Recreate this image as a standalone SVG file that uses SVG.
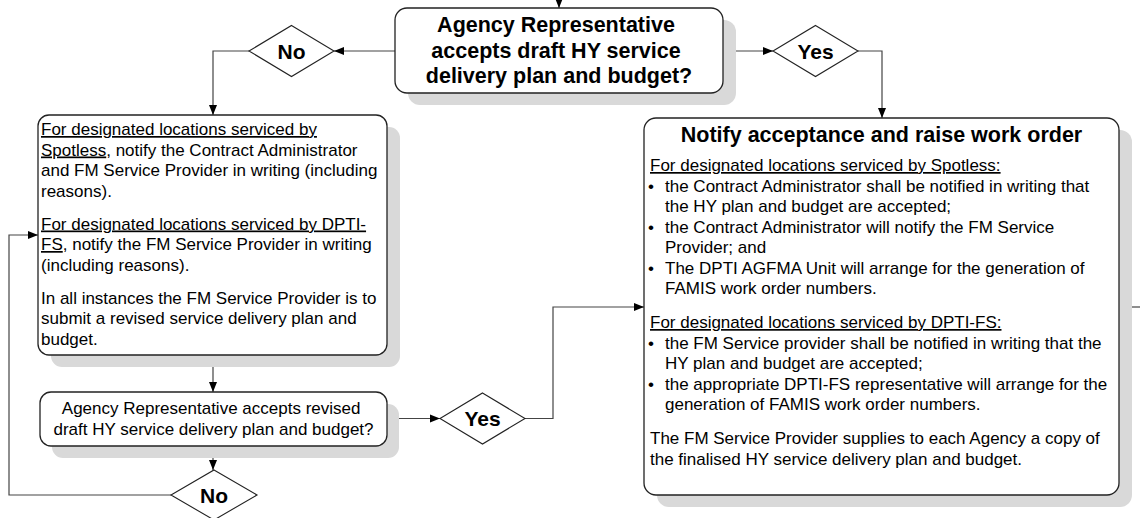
<svg xmlns="http://www.w3.org/2000/svg" width="1140" height="518" viewBox="0 0 1140 518">
  <defs>
    <marker id="arrow" viewBox="0 0 10 10" refX="10" refY="5" markerWidth="10" markerHeight="10" markerUnits="userSpaceOnUse" orient="auto">
      <path d="M0,1 L10,5 L0,9 Z" fill="#000"/>
    </marker>
    <style>
      .box { fill: #fff; stroke: #222; stroke-width: 1.3; }
      .shadow { fill: #d9d9d9; stroke: none; }
      .dia { fill: #fff; stroke: #222; stroke-width: 1.1; }
      .conn { fill: none; stroke: #444; stroke-width: 1.2; }
      .arr { marker-end: url(#arrow); }
      .hd { font-family: "Liberation Sans", Arial, sans-serif; font-weight: bold; font-size: 21.5px; fill: #000; }
      .lbl { font-family: "Liberation Sans", Arial, sans-serif; font-weight: bold; font-size: 21px; fill: #000; text-anchor: middle; }
      .tx { font-family: "Liberation Sans", Arial, sans-serif; font-size: 17px; fill: #000; }
      .u { text-decoration: underline; }
    </style>
  </defs>

  <!-- connectors -->
  <g id="connectors">
    <path class="conn arr" d="M559,0 V8"/>
    <path class="conn arr" d="M395,51 H334"/>
    <path class="conn arr" d="M249,51 H213 V115"/>
    <path class="conn arr" d="M723,51 H773"/>
    <path class="conn arr" d="M858,51 H882 V118"/>
    <path class="conn arr" d="M213,355 V392"/>
    <path class="conn arr" d="M213,446 V470"/>
    <path class="conn arr" d="M387,418.5 H440"/>
    <path class="conn arr" d="M525,418.5 H553 V307 H644"/>
    <path class="conn arr" d="M171,495 H9 V235 H38"/>
    <path class="conn" d="M1119,307 H1140"/>
  </g>

  <!-- decision: draft plan accepted -->
  <g id="draft-decision">
    <rect class="shadow" x="408" y="20" width="328" height="85" rx="12"/>
    <rect class="box" x="395" y="8" width="328" height="85" rx="12"/>
    <text class="hd" text-anchor="middle">
      <tspan x="559" y="32">Agency Representative</tspan>
      <tspan x="559" y="57.5">accepts draft HY service</tspan>
      <tspan x="559" y="83">delivery plan and budget?</tspan>
    </text>
  </g>

  <g id="no-1">
    <polygon class="dia" points="291.5,25.5 334,51 291.5,76.5 249,51"/>
    <text class="lbl" x="291.5" y="58.5">No</text>
  </g>

  <g id="yes-1">
    <polygon class="dia" points="815.5,25.5 858,51 815.5,76.5 773,51"/>
    <text class="lbl" x="815.5" y="58.5">Yes</text>
  </g>

  <!-- rejection notice -->
  <g id="notify-rejection">
    <rect class="shadow" x="51" y="127" width="349" height="240" rx="11"/>
    <rect class="box" x="38" y="115" width="349" height="240" rx="11"/>
    <text class="tx">
      <tspan x="41" y="135" class="u">For designated locations serviced by</tspan>
      <tspan x="41" y="155.5"><tspan class="u">Spotless</tspan>, notify the Contract Administrator</tspan>
      <tspan x="41" y="176">and FM Service Provider in writing (including</tspan>
      <tspan x="41" y="196.5">reasons).</tspan>
      <tspan x="41" y="229.5" class="u">For designated locations serviced by DPTI-</tspan>
      <tspan x="41" y="250"><tspan class="u">FS</tspan>, notify the FM Service Provider in writing</tspan>
      <tspan x="41" y="270.5">(including reasons).</tspan>
      <tspan x="41" y="303.5">In all instances the FM Service Provider is to</tspan>
      <tspan x="41" y="324">submit a revised service delivery plan and</tspan>
      <tspan x="41" y="344.5">budget.</tspan>
    </text>
  </g>

  <!-- decision: revised plan accepted -->
  <g id="revised-decision">
    <rect class="shadow" x="52" y="404" width="347" height="54" rx="11"/>
    <rect class="box" x="40" y="392" width="347" height="54" rx="11"/>
    <text class="tx" text-anchor="middle">
      <tspan x="213.5" y="414">Agency Representative accepts revised</tspan>
      <tspan x="213.5" y="434.5">draft HY service delivery plan and budget?</tspan>
    </text>
  </g>

  <g id="yes-2">
    <polygon class="dia" points="482.5,393 525,418.5 482.5,444 440,418.5"/>
    <text class="lbl" x="482.5" y="426">Yes</text>
  </g>

  <g id="no-2">
    <polygon class="dia" points="214,470 257,495 214,520 171,495"/>
    <text class="lbl" x="214" y="502.5">No</text>
  </g>

  <!-- acceptance and work order -->
  <g id="notify-acceptance">
    <rect class="shadow" x="657" y="130" width="475" height="377" rx="12"/>
    <rect class="box" x="644" y="118" width="475" height="377" rx="12"/>
    <text class="hd" x="881.5" y="142" text-anchor="middle">Notify acceptance and raise work order</text>
    <text class="tx">
      <tspan x="650" y="171" class="u">For designated locations serviced by Spotless:</tspan>
      <tspan x="648" y="191.5">•</tspan><tspan x="665" y="191.5">the Contract Administrator shall be notified in writing that</tspan>
      <tspan x="665" y="212">the HY plan and budget are accepted;</tspan>
      <tspan x="648" y="232.5">•</tspan><tspan x="665" y="232.5">the Contract Administrator will notify the FM Service</tspan>
      <tspan x="665" y="253">Provider; and</tspan>
      <tspan x="648" y="273.5">•</tspan><tspan x="665" y="273.5">The DPTI AGFMA Unit will arrange for the generation of</tspan>
      <tspan x="665" y="294">FAMIS work order numbers.</tspan>
      <tspan x="650" y="328" class="u">For designated locations serviced by DPTI-FS:</tspan>
      <tspan x="648" y="348.5">•</tspan><tspan x="665" y="348.5">the FM Service provider shall be notified in writing that the</tspan>
      <tspan x="665" y="369">HY plan and budget are accepted;</tspan>
      <tspan x="648" y="389.5">•</tspan><tspan x="665" y="389.5">the appropriate DPTI-FS representative will arrange for the</tspan>
      <tspan x="665" y="410">generation of FAMIS work order numbers.</tspan>
      <tspan x="650" y="444">The FM Service Provider supplies to each Agency a copy of</tspan>
      <tspan x="650" y="464.5">the finalised HY service delivery plan and budget.</tspan>
    </text>
  </g>
</svg>
